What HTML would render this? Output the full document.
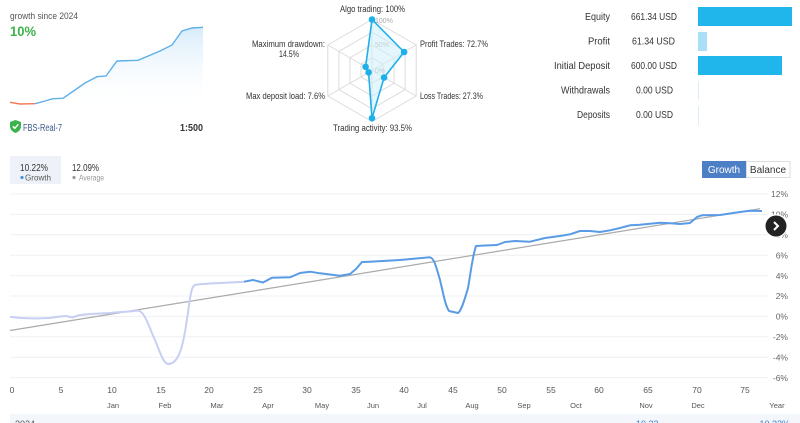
<!DOCTYPE html>
<html><head><meta charset="utf-8">
<style>
html,body{margin:0;padding:0;background:#fff;width:800px;height:423px;overflow:hidden}
svg{display:block;font-family:"Liberation Sans",sans-serif}
</style></head><body>
<svg width="800" height="423" viewBox="0 0 800 423" xmlns="http://www.w3.org/2000/svg">
<defs>
<linearGradient id="mf" x1="0" y1="0" x2="0" y2="1">
<stop offset="0" stop-color="#d6ebfa"/>
<stop offset="1" stop-color="#ffffff" stop-opacity="0"/>
</linearGradient>
</defs>
<rect width="800" height="423" fill="#fff"/>

<!-- top-left mini -->
<text x="10" y="19" font-size="9.5" fill="#555" textLength="68" lengthAdjust="spacingAndGlyphs">growth since 2024</text>
<text x="10" y="36" font-size="14" font-weight="bold" fill="#3cb34a" textLength="26" lengthAdjust="spacingAndGlyphs">10%</text>
<path d="M10,102.3 L20,104 L35,103.7 L45,101 L53,98.7 L63,98.3 L75,90 L85,83 L97,76.7 L106,76 L117,61 L138,60.3 L160,51 L172,45 L182,31 L192,28 L203,27.3 L203,108 L10,108 Z" fill="url(#mf)"/>
<path d="M35,103.7 L45,101 L53,98.7 L63,98.3 L75,90 L85,83 L97,76.7 L106,76 L117,61 L138,60.3 L160,51 L172,45 L182,31 L192,28 L203,27.3" fill="none" stroke="#5eb0e8" stroke-width="1.4"/>
<path d="M10,102.3 L20,104 L35,103.7" fill="none" stroke="#f07a55" stroke-width="1.4"/>
<path d="M10,122 L15.5,120 L21,122 L21,126 Q21,131 15.5,133 Q10,131 10,126 Z" fill="#3cb34a"/>
<path d="M12.8,126.3 L14.8,128.3 L18.3,124.3" fill="none" stroke="#fff" stroke-width="1.4"/>
<text x="23" y="131" font-size="10" fill="#3a5a8a" textLength="39" lengthAdjust="spacingAndGlyphs">FBS-Real-7</text>
<text x="180" y="131" font-size="10.5" font-weight="bold" fill="#333" textLength="23" lengthAdjust="spacingAndGlyphs">1:500</text>

<!-- radar -->
<g stroke="#dcdcdc" stroke-width="1" fill="none">
<polygon points="372,19.5 416.2,45 416.2,96 372,121.5 327.8,96 327.8,45"/>
<polygon points="372,32.25 405.1,51.4 405.1,89.6 372,108.75 338.9,89.6 338.9,51.4"/>
<polygon points="372,45 394.1,57.75 394.1,83.25 372,96 349.9,83.25 349.9,57.75"/>
<polygon points="372,57.75 383,64.1 383,76.9 372,83.25 361,76.9 361,64.1"/>
<line x1="372" y1="70.5" x2="372" y2="19.5"/>
<line x1="372" y1="70.5" x2="416.2" y2="45"/>
<line x1="372" y1="70.5" x2="416.2" y2="96"/>
<line x1="372" y1="70.5" x2="372" y2="121.5"/>
<line x1="372" y1="70.5" x2="327.8" y2="96"/>
<line x1="372" y1="70.5" x2="327.8" y2="45"/>
</g>
<text x="375" y="23" font-size="7" fill="#aaa">100%</text>
<text x="375" y="47" font-size="7" fill="#aaa">50%</text>
<text x="375" y="73" font-size="7" fill="#aaa">0%</text>
<polygon points="372,19.5 404.1,52 384.1,77.5 372,118.2 368.6,72.4 365.6,66.8" fill="#cfeefb" fill-opacity="0.55" stroke="#1fb0ea" stroke-width="1.6"/>
<g fill="#1fb0ea">
<circle cx="372" cy="19.5" r="3.3"/><circle cx="404.1" cy="52" r="3.3"/><circle cx="384.1" cy="77.5" r="3.3"/>
<circle cx="372" cy="118.2" r="3.3"/><circle cx="368.6" cy="72.4" r="3.3"/><circle cx="365.6" cy="66.8" r="3.3"/>
</g>
<g font-size="9.5" fill="#333" lengthAdjust="spacingAndGlyphs">
<text x="340" y="12" textLength="65" lengthAdjust="spacingAndGlyphs">Algo trading: 100%</text>
<text x="420" y="47" textLength="68" lengthAdjust="spacingAndGlyphs">Profit Trades: 72.7%</text>
<text x="420" y="99" textLength="63" lengthAdjust="spacingAndGlyphs">Loss Trades: 27.3%</text>
<text x="333" y="131" textLength="79" lengthAdjust="spacingAndGlyphs">Trading activity: 93.5%</text>
<text x="246" y="99" textLength="79" lengthAdjust="spacingAndGlyphs">Max deposit load: 7.6%</text>
<text x="252" y="47" textLength="73" lengthAdjust="spacingAndGlyphs">Maximum drawdown:</text>
<text x="279" y="57" textLength="20" lengthAdjust="spacingAndGlyphs">14.5%</text>
</g>

<!-- right panel -->
<g font-size="10.5" fill="#333">
<text x="585" y="20" textLength="25" lengthAdjust="spacingAndGlyphs">Equity</text>
<text x="588" y="44.5" textLength="22" lengthAdjust="spacingAndGlyphs">Profit</text>
<text x="554" y="69" textLength="56" lengthAdjust="spacingAndGlyphs">Initial Deposit</text>
<text x="561" y="93.5" textLength="49" lengthAdjust="spacingAndGlyphs">Withdrawals</text>
<text x="577" y="118" textLength="33" lengthAdjust="spacingAndGlyphs">Deposits</text>
<text x="631" y="20" textLength="46" lengthAdjust="spacingAndGlyphs">661.34 USD</text>
<text x="632" y="44.5" textLength="43" lengthAdjust="spacingAndGlyphs">61.34 USD</text>
<text x="631" y="69" textLength="46" lengthAdjust="spacingAndGlyphs">600.00 USD</text>
<text x="636" y="93.5" textLength="37" lengthAdjust="spacingAndGlyphs">0.00 USD</text>
<text x="636" y="118" textLength="37" lengthAdjust="spacingAndGlyphs">0.00 USD</text>
</g>
<rect x="698" y="7" width="94" height="19" fill="#20b6ec"/>
<rect x="698" y="32" width="9" height="19" fill="#a9dff7"/>
<rect x="698" y="56" width="84" height="19" fill="#20b6ec"/>
<rect x="698" y="81" width="1" height="19" fill="#dbeef8"/>
<rect x="698" y="106" width="1" height="19" fill="#dbeef8"/>

<!-- summary box -->
<rect x="10" y="156" width="51" height="28" fill="#eef2f8"/>
<text x="20" y="171" font-size="10" fill="#333" textLength="28" lengthAdjust="spacingAndGlyphs">10.22%</text>
<circle cx="22" cy="177.5" r="1.6" fill="#4a8fe0"/>
<text x="25" y="180.5" font-size="8" fill="#555" textLength="26" lengthAdjust="spacingAndGlyphs">Growth</text>
<text x="72" y="171" font-size="10" fill="#333" textLength="27" lengthAdjust="spacingAndGlyphs">12.09%</text>
<circle cx="74" cy="177.5" r="1.6" fill="#999"/>
<text x="79" y="180.5" font-size="8" fill="#999" textLength="25" lengthAdjust="spacingAndGlyphs">Average</text>

<!-- buttons -->
<rect x="702" y="161" width="44" height="17" fill="#4d7fc7"/>
<text x="724" y="173" font-size="10" fill="#fff" text-anchor="middle">Growth</text>
<rect x="746.5" y="161.5" width="43.5" height="16" fill="#fff" stroke="#ddd"/>
<text x="768" y="173" font-size="10" fill="#333" text-anchor="middle">Balance</text>

<!-- grid -->
<g stroke="#eef0f3" stroke-width="1">
<line x1="10" y1="194" x2="768" y2="194"/>
<line x1="10" y1="214.4" x2="768" y2="214.4"/>
<line x1="10" y1="234.8" x2="768" y2="234.8"/>
<line x1="10" y1="255.2" x2="768" y2="255.2"/>
<line x1="10" y1="275.6" x2="768" y2="275.6"/>
<line x1="10" y1="296" x2="768" y2="296"/>
<line x1="10" y1="316.4" x2="768" y2="316.4"/>
<line x1="10" y1="336.8" x2="768" y2="336.8"/>
<line x1="10" y1="357.2" x2="768" y2="357.2"/>
<line x1="10" y1="377.6" x2="768" y2="377.6"/>
</g>
<g font-size="8.5" fill="#666" text-anchor="end">
<text x="788" y="197">12%</text>
<text x="788" y="217.5">10%</text>
<text x="788" y="238">8%</text>
<text x="788" y="258.5">6%</text>
<text x="788" y="279">4%</text>
<text x="788" y="299">2%</text>
<text x="788" y="319.5">0%</text>
<text x="788" y="340">-2%</text>
<text x="788" y="360.5">-4%</text>
<text x="788" y="381">-6%</text>
</g>

<!-- x labels -->
<g font-size="8.5" fill="#555" text-anchor="middle">
<text x="12" y="393">0</text><text x="61" y="393">5</text><text x="112" y="393">10</text>
<text x="161" y="393">15</text><text x="209" y="393">20</text><text x="258" y="393">25</text>
<text x="307" y="393">30</text><text x="356" y="393">35</text><text x="404" y="393">40</text>
<text x="453" y="393">45</text><text x="502" y="393">50</text><text x="551" y="393">55</text>
<text x="599" y="393">60</text><text x="648" y="393">65</text><text x="697" y="393">70</text>
<text x="745" y="393">75</text>
</g>
<g font-size="7.5" fill="#555" text-anchor="middle">
<text x="113" y="408">Jan</text><text x="165" y="408">Feb</text><text x="217" y="408">Mar</text>
<text x="268" y="408">Apr</text><text x="322" y="408">May</text><text x="373" y="408">Jun</text>
<text x="422" y="408">Jul</text><text x="472" y="408">Aug</text><text x="524" y="408">Sep</text>
<text x="576" y="408">Oct</text><text x="646" y="408">Nov</text><text x="698" y="408">Dec</text>
<text x="777" y="408">Year</text>
</g>

<!-- bottom strip -->
<rect x="10" y="414" width="790" height="9" fill="#f3f6fb"/>
<text x="15" y="427" font-size="9" fill="#555">2024</text>
<text x="636" y="427" font-size="9" fill="#3a7fd0">10.22</text>
<text x="790" y="427" font-size="9" fill="#3a7fd0" text-anchor="end">10.22%</text>

<!-- trend -->
<line x1="10" y1="330.5" x2="760" y2="208.7" stroke="#aaaaaa" stroke-width="1.2"/>

<!-- light series -->
<path d="M10,316.7 L20,318 L35,318.5 L50,318 L60,316.5 L66,316 L72,317.5 L80,315 L90,314 L110,313 L120,312 L130,311.5 L138,310.5 C145,311 150,330 155,340 C160,352 163,363 168,364 C173,364 177,360 180,352 C184,342 187,320 190,298 C192,287 193,285 197,284.5 L210,283.5 L240,282 L245,281.7" fill="none" stroke="#c8cff3" stroke-width="2" stroke-linejoin="round"/>
<!-- blue series -->
<path d="M244,281.7 L253,280 L263,282.5 L272,277.7 L290,277.3 L300,273 L310,271.7 L320,273.3 L340,275.7 L350,274 L356,269 L362,262 L370,261.7 L400,260 L430,257.3 C434,258 436,266 440,280 C443,292 445,305 449,311 L458,313 C461,311 464,302 468,288 C470,278 472,258 476,246 L485,245.5 L497,245 L505,242 L515,241 L530,241.7 L545,238 L560,236 L570,234.3 L580,231 L590,231 L600,232 L610,230.3 L620,228 L630,225.3 L640,224.7 L660,222.7 L670,223.3 L680,224 L690,223 L697,217 L702,215.3 L720,215 L740,212 L750,210.7 L762,211" fill="none" stroke="#5a9be6" stroke-width="2" stroke-linejoin="round"/>

<!-- nav button -->
<circle cx="776" cy="226" r="12" fill="#fff" opacity="0.9"/>
<circle cx="776" cy="226" r="10.5" fill="#222"/>
<path d="M774,222 L778,226 L774,230" fill="none" stroke="#fff" stroke-width="2"/>
</svg>
</body></html>
